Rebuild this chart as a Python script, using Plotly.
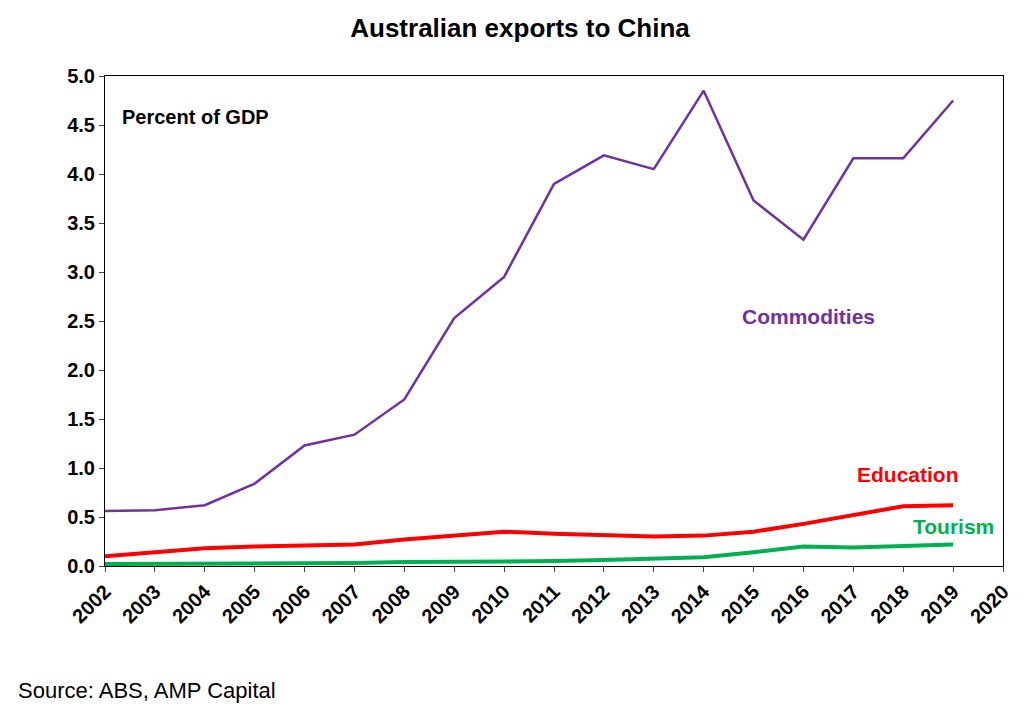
import plotly.graph_objects as go

years = list(range(2002, 2020))
commodities = [0.56, 0.57, 0.62, 0.84, 1.23, 1.34, 1.70, 2.53, 2.95, 3.90,
               4.19, 4.05, 4.85, 3.73, 3.33, 4.16, 4.16, 4.75]
education = [0.10, 0.14, 0.18, 0.20, 0.21, 0.22, 0.27, 0.31, 0.35, 0.33,
             0.31, 0.30, 0.31, 0.35, 0.43, 0.52, 0.61, 0.62]
tourism = [0.02, 0.02, 0.02, 0.02, 0.03, 0.03, 0.04, 0.04, 0.04, 0.05,
           0.06, 0.07, 0.09, 0.14, 0.20, 0.19, 0.20, 0.22]

fig = go.Figure()
fig.add_trace(go.Scatter(x=years, y=commodities, mode='lines',
                         line=dict(color='#7030a0', width=2.5)))
fig.add_trace(go.Scatter(x=years, y=education, mode='lines',
                         line=dict(color='#ff0000', width=4)))
fig.add_trace(go.Scatter(x=years, y=tourism, mode='lines',
                         line=dict(color='#00b050', width=4)))

fig.update_layout(
    width=1024, height=714,
    margin=dict(l=97, r=29, t=68, b=156, autoexpand=False),
    plot_bgcolor='white', paper_bgcolor='white',
    showlegend=False,
    font=dict(family="Arial, Liberation Sans, sans-serif", size=20, color='black'),
    title=dict(text="<b>Australian exports to China</b>", x=0.5, xanchor='center',
               y=0.972, yanchor='middle', font=dict(size=26)),
    xaxis=dict(range=[2002, 2020], tickmode='linear', dtick=1, tick0=2002,
               tickangle=-45, showgrid=False, showline=True, linecolor='black',
               linewidth=1, mirror=True, ticks='outside', ticklen=5,
               automargin=False, tickfont=dict(size=20),
               tickprefix='<b>', ticksuffix='</b>'),
    yaxis=dict(range=[0, 5], dtick=0.5, tickformat='.1f', showgrid=False,
               showline=True, linecolor='black', linewidth=1, mirror=True,
               ticks='outside', ticklen=5, automargin=False,
               tickfont=dict(size=20), tickprefix='<b>', ticksuffix='</b>'),
)

fig.add_annotation(text="<b>Percent of GDP</b>", x=2002.3, y=4.58, xanchor='left',
                   showarrow=False, font=dict(size=20, color='black'))
fig.add_annotation(text="<b>Commodities</b>", x=2016.1, y=2.55, showarrow=False,
                   font=dict(size=21, color='#7030a0'))
fig.add_annotation(text="<b>Education</b>", x=2018.1, y=0.93, showarrow=False,
                   font=dict(size=21, color='#ff0000'))
fig.add_annotation(text="<b>Tourism</b>", x=2019.0, y=0.40, showarrow=False,
                   font=dict(size=21, color='#00b050'))
fig.add_annotation(text="Source: ABS, AMP Capital", xref='paper', yref='paper',
                   x=-0.099, y=-0.255, xanchor='left', yanchor='middle',
                   showarrow=False, font=dict(size=22, color='black'))

fig.write_html("out.html")
